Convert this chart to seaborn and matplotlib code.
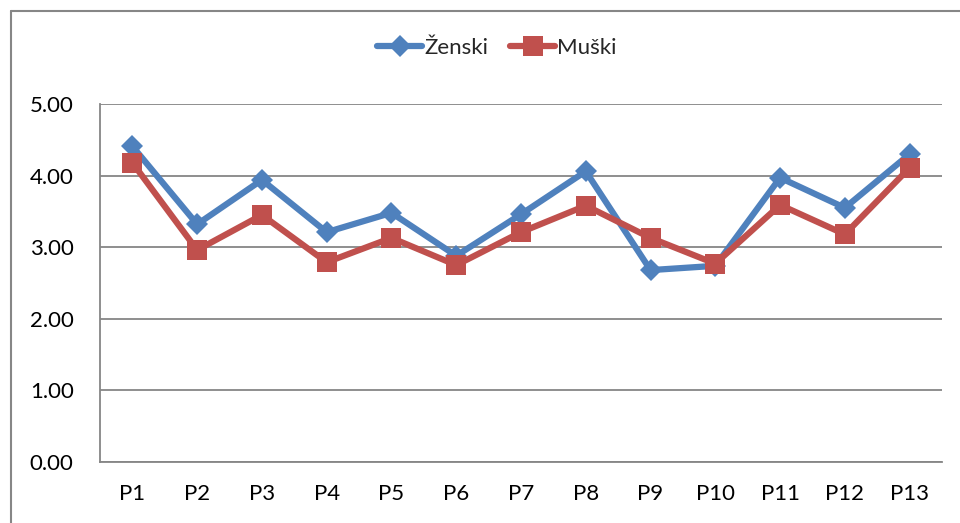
import matplotlib
matplotlib.use("Agg")
import matplotlib.pyplot as plt
import seaborn as sns
import pandas as pd
from matplotlib.lines import Line2D

categories = ["P1", "P2", "P3", "P4", "P5", "P6", "P7", "P8", "P9", "P10", "P11", "P12", "P13"]
zenski = [4.41, 3.32, 3.94, 3.21, 3.48, 2.88, 3.46, 4.06, 2.68, 2.74, 3.97, 3.55, 4.30]
muski = [4.18, 2.96, 3.45, 2.79, 3.13, 2.75, 3.21, 3.58, 3.13, 2.77, 3.59, 3.18, 4.11]
series_names = ["Ženski", "Muški"]
yticks = [0, 1, 2, 3, 4, 5]

sns.set_theme(style="white")
plt.rcParams['font.family'] = ['Lato', 'DejaVu Sans']

df = pd.DataFrame({
    "cat": categories * 2,
    "x": list(range(len(categories))) * 2,
    "val": zenski + muski,
    "series": [series_names[0]] * len(categories) + [series_names[1]] * len(categories),
})

fig = plt.figure(figsize=(9.6, 5.23), dpi=100)
ax = fig.add_axes([100/960, 61/523, 842/960, 358/523])

colors = {"Ženski": "#4F81BD", "Muški": "#C0504D"}
markers = {"Ženski": "D", "Muški": "s"}
msize = {"Ženski": 11, "Muški": 14}
for name in series_names:
    sub = df[df["series"] == name]
    sns.lineplot(data=sub, x="x", y="val", ax=ax, color=colors[name], linewidth=4.5,
                 marker=markers[name], markersize=msize[name], markeredgewidth=0,
                 legend=False, zorder=3 if name == "Ženski" else 4)

ax.set_xlim(-0.5, len(categories) - 0.5)
ax.set_ylim(0, 5)
ax.set_yticks(yticks)
ax.set_yticklabels([f"{v:.2f}" for v in yticks], fontsize=16)
ax.set_xticks(range(len(categories)))
ax.set_xticklabels(categories, fontsize=16)
ax.set_xlabel("")
ax.set_ylabel("")
ax.yaxis.grid(True, color="#868686", linewidth=1.3)
ax.set_axisbelow(True)
for s in ["top", "right"]:
    ax.spines[s].set_visible(False)
for s in ["left", "bottom"]:
    ax.spines[s].set_color("#868686")
    ax.spines[s].set_linewidth(1.3)
ax.tick_params(axis="x", length=0, pad=16, colors="black")
ax.tick_params(axis="y", length=0, pad=19, colors="black")

handles = [Line2D([0], [0], color=colors[n], linewidth=4.5, marker=markers[n],
                  markersize=msize[n], markeredgewidth=0) for n in series_names]
fig.legend(handles, series_names, loc="center", bbox_to_anchor=(497/960, 1 - 48/523),
           ncol=2, frameon=False, fontsize=16, handlelength=2.0, handletextpad=0.1,
           columnspacing=1.0)

# outer chart-area frame
fig.add_artist(Line2D([11/960, 11/960], [0, 1 - 11/523], transform=fig.transFigure,
                      color="#868686", linewidth=1.5))
fig.add_artist(Line2D([11/960, 1], [1 - 11/523, 1 - 11/523], transform=fig.transFigure,
                      color="#868686", linewidth=1.5))

fig.savefig("out.png", dpi=100)
